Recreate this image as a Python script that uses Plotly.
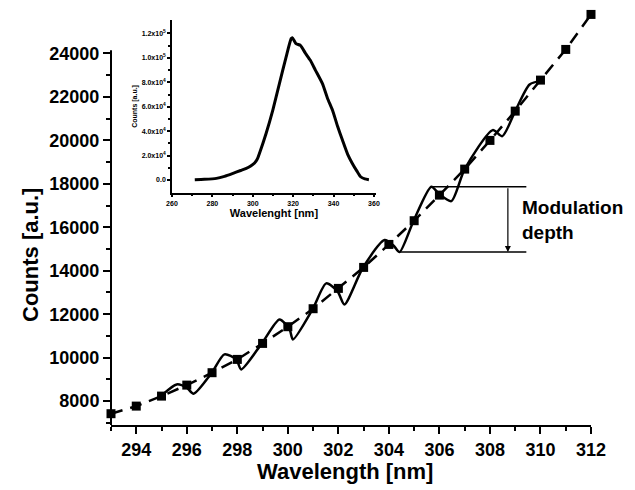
import plotly.graph_objects as go

# ---------------- data ----------------
wl_markers = list(range(293, 313))
counts_markers = [7420, 7770, 8230, 8736, 9307, 9919, 10655, 11424, 12252, 13187,
                  14153, 15211, 16302, 17480, 18677, 19998, 21346, 22773, 24185, 25796]

wl_curve = [295.05, 295.6, 296.0, 296.27, 296.99, 297.49, 297.96, 298.15, 298.97, 299.67,
            300.07, 300.2, 300.99, 301.52, 301.97, 302.24, 302.97, 303.83, 304.18, 304.42,
            304.98, 305.68, 306.0, 306.47, 307.0, 308.11, 308.49, 309.0, 309.57, 310.05]
counts_curve = [8308, 8768, 8617, 8340, 9307, 10149, 9919, 9459, 10655, 11760,
                11300, 10840, 12252, 13417, 13048, 12450, 14139, 15410, 15165, 14857,
                16302, 17866, 17520, 17204, 18677, 20471, 20195, 21346, 22574, 22750]

inset_wl = [271.3, 276, 282, 286, 290.2, 294, 296.8, 299, 300.9, 302.2, 303.3, 306.6, 309.9,
            313.2, 316.5, 319.0, 319.6, 321.4, 323.6, 326, 328.5, 331, 334.5, 337,
            339.5, 342, 344.4, 347, 349.3, 351.5, 353.4, 355.5, 357.5]
inset_counts = [300, 600, 1360, 3000, 5440, 7800, 9500, 11500, 14000, 17000, 21800, 38100, 57100,
                78900, 100700, 115700, 116500, 111600, 110200, 104000, 98000, 90000, 78900, 67000,
                57100, 44000, 32700, 21000, 13600, 7500, 2700, 900, 300]

x_ticks = list(range(294, 313, 2))
y_ticks = list(range(8000, 24001, 2000))
y_tick_labels = [str(v) for v in y_ticks]
inset_x_ticks = [260, 280, 300, 320, 340, 360]
inset_y_ticks = [0, 20000, 40000, 60000, 80000, 100000, 120000]
inset_y_labels = ["0.0", "2.0x10<sup>4</sup>", "4.0x10<sup>4</sup>", "6.0x10<sup>4</sup>",
                  "8.0x10<sup>4</sup>", "1.0x10<sup>5</sup>", "1.2x10<sup>5</sup>"]

# modulation-depth annotation levels
mod_top = 17866
mod_bottom = 14857
mod_top_x0 = 305.68
mod_bottom_x0 = 304.42
mod_x1 = 309.44
mod_arrow_x = 308.71

FONT = "Liberation Sans, Arial, sans-serif"

fig = go.Figure()

fig.add_trace(go.Scatter(
    x=wl_curve, y=counts_curve, mode="lines",
    line=dict(color="black", width=2.5, shape="spline", smoothing=0.7),
    showlegend=False, cliponaxis=False))

fig.add_trace(go.Scatter(
    x=wl_markers, y=counts_markers, mode="lines+markers",
    line=dict(color="black", width=2.5, dash="12px,8px"),
    marker=dict(symbol="square", size=9, color="black"),
    showlegend=False, cliponaxis=False))

fig.add_trace(go.Scatter(
    x=inset_wl, y=inset_counts, mode="lines", xaxis="x2", yaxis="y2",
    line=dict(color="black", width=3, shape="spline", smoothing=0.5),
    showlegend=False))

fig.update_layout(
    width=635, height=490,
    margin=dict(l=111, r=44, t=5, b=65),
    paper_bgcolor="white", plot_bgcolor="white",
    font=dict(family=FONT, color="black"),
    xaxis=dict(range=[293, 312], showgrid=False, zeroline=False,
               showline=True, linewidth=2, linecolor="black",
               ticks="outside", ticklen=7, tickwidth=2, tickcolor="black",
               tickmode="array", tickvals=x_ticks,
               tickfont=dict(family=FONT, size=18, weight="bold"),
               minor=dict(tickmode="array", tickvals=list(range(293, 312, 2)),
                          ticks="outside", ticklen=4, tickwidth=2, tickcolor="black")),
    yaxis=dict(range=[6900, 26230], showgrid=False, zeroline=False,
               showline=False,
               ticks="outside", ticklen=7, tickwidth=2, tickcolor="black",
               tickmode="array", tickvals=y_ticks, ticktext=y_tick_labels,
               tickfont=dict(family=FONT, size=18, weight="bold"),
               minor=dict(tickmode="array", tickvals=list(range(7000, 24000, 2000)),
                          ticks="outside", ticklen=4, tickwidth=2, tickcolor="black")),
    xaxis2=dict(domain=[0.127, 0.552], anchor="y2", range=[260, 361],
                showgrid=False, zeroline=False, showline=True, linewidth=1.5,
                linecolor="black", ticks="outside", ticklen=3, tickwidth=1.5,
                tickcolor="black", tickmode="array", tickvals=inset_x_ticks,
                tickfont=dict(family=FONT, size=7, weight="bold"),
                minor=dict(tickmode="array", tickvals=[270, 290, 310, 330, 350],
                           ticks="outside", ticklen=2, tickwidth=1.5, tickcolor="black"),
                title=dict(text="Wavelenght [nm]", standoff=2,
                           font=dict(family=FONT, size=11, weight="bold"))),
    yaxis2=dict(domain=[0.553, 0.964], anchor="x2", range=[-10400, 130900],
                showgrid=False, zeroline=False, showline=True, linewidth=1.5,
                linecolor="black", ticks="outside", ticklen=3, tickwidth=1.5,
                tickcolor="black", tickmode="array", tickvals=inset_y_ticks,
                ticktext=inset_y_labels,
                tickfont=dict(family=FONT, size=7, weight="bold"),
                minor=dict(tickmode="array",
                           tickvals=[10000, 30000, 50000, 70000, 90000, 110000],
                           ticks="outside", ticklen=2, tickwidth=1.5, tickcolor="black"),
                title=dict(text="Counts [a.u.]", standoff=3,
                           font=dict(family=FONT, size=7, weight="bold"))),
)

# main y-axis line (stops at the top tick as in the reference)
fig.add_shape(type="line", xref="paper", yref="y", x0=0, x1=0, y0=6900, y1=24150,
              line=dict(color="black", width=2))

# modulation depth lines
fig.add_shape(type="line", xref="x", yref="y", x0=mod_top_x0, x1=mod_x1,
              y0=mod_top, y1=mod_top, line=dict(color="black", width=1.5))
fig.add_shape(type="line", xref="x", yref="y", x0=mod_bottom_x0, x1=mod_x1,
              y0=mod_bottom, y1=mod_bottom, line=dict(color="black", width=1.5))
fig.add_annotation(x=mod_arrow_x, y=mod_bottom, ax=mod_arrow_x, ay=mod_top,
                   xref="x", yref="y", axref="x", ayref="y", text="",
                   showarrow=True, arrowhead=2, arrowsize=1, arrowwidth=1.2,
                   arrowcolor="black", standoff=0)
fig.add_annotation(text="Modulation<br>depth", xref="paper", yref="paper",
                   x=(520 - 111) / 480, y=(425 - 220) / 420, xanchor="left", yanchor="middle",
                   align="left", showarrow=False,
                   font=dict(family=FONT, size=19, weight="bold"))

# axis titles
fig.add_annotation(text="Counts [a.u.]", xref="paper", yref="paper",
                   x=(30 - 111) / 480, y=(425 - 255) / 420, textangle=-90,
                   xanchor="center", yanchor="middle", showarrow=False,
                   font=dict(family=FONT, size=22, weight="bold"))
fig.add_annotation(text="Wavelength [nm]", xref="paper", yref="paper",
                   x=(345 - 111) / 480, y=(425 - 471) / 420,
                   xanchor="center", yanchor="middle", showarrow=False,
                   font=dict(family=FONT, size=22, weight="bold"))

fig.write_html("out.html")
